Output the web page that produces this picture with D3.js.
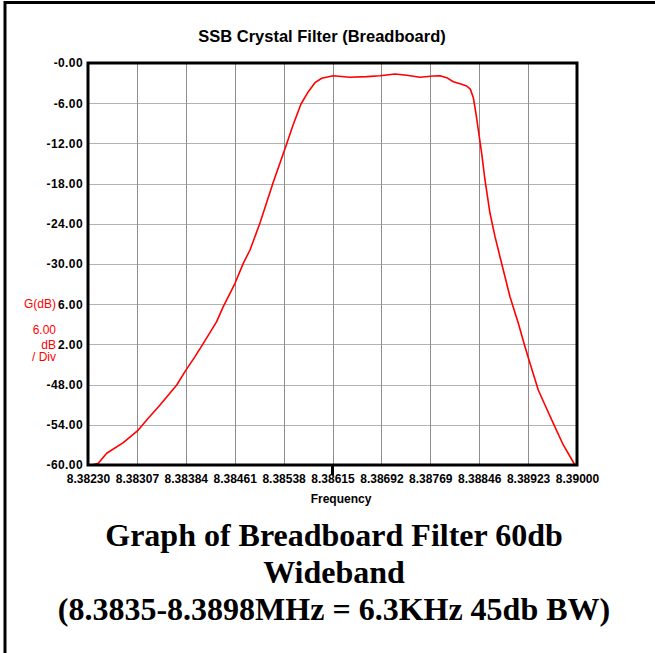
<!DOCTYPE html>
<html>
<head>
<meta charset="utf-8">
<script src="https://cdn.jsdelivr.net/npm/d3@7"></script>
<style>
  body { margin: 0; background: #fff; }
  svg { display: block; }
</style>
</head>
<body>
<svg id="chart"></svg>
<script>
// measured response, frequency in MHz / gain in dB
var freqMHz = [8.382358, 8.382462, 8.382594, 8.382856, 8.383092, 8.383224, 8.383434, 8.383697,
  8.383827, 8.383985, 8.384116, 8.384326, 8.384430, 8.384615, 8.384745, 8.384851, 8.385008,
  8.385213, 8.385433, 8.385528, 8.385654, 8.385769, 8.385874, 8.385980, 8.386162, 8.386425,
  8.386688, 8.386898, 8.387134, 8.387318, 8.387528, 8.387737, 8.387843, 8.387948, 8.388052,
  8.388184, 8.388263, 8.388320, 8.388368, 8.388410, 8.388446, 8.388499, 8.388551, 8.388630, 8.388709,
  8.388787, 8.388945, 8.389076, 8.389181, 8.389260, 8.389390, 8.389496, 8.389627, 8.389784,
  8.389968]
var gainDb = [-60.0, -59.75, -58.25, -56.67, -54.78, -53.28, -51.04, -48.06,
  -46.07, -43.83, -41.84, -38.61, -36.37, -32.88, -29.90, -27.91, -23.88,
  -17.91, -11.94, -9.30, -6.12, -4.28, -2.94, -2.28, -1.90, -2.13,
  -2.04, -1.90, -1.64, -1.84, -2.13, -1.94, -1.90, -2.19, -2.79,
  -3.18, -3.43, -3.90, -5.20, -7.60, -10.00, -13.48, -17.46, -22.43, -25.92,
  -28.91, -34.88, -38.85, -42.34, -44.82, -48.80, -51.04, -53.78, -57.01,
  -60.00]

var xTicks = [8.38230, 8.38307, 8.38384, 8.38461, 8.38538, 8.38615, 8.38692, 8.38769, 8.38846, 8.38923, 8.39000]
var yTicks = [0, -6, -12, -18, -24, -30, -36, -42, -48, -54, -60]
// -36 and -42 show only their tail, the red caption covers the rest
var yTickLabels = ["-0.00", "-6.00", "-12.00", "-18.00", "-24.00", "-30.00", "6.00", "2.00", "-48.00", "-54.00", "-60.00"]
var captionLines = ["Graph of Breadboard Filter 60db", "Wideband", "(8.3835-8.3898MHz = 6.3KHz 45db BW)"]

var width = 655
var height = 653
var plot = {left: 88, top: 63, right: 577, bottom: 465}

const svg = d3.select('#chart')
    .attr("width", width)
    .attr("height", height)

svg.append("rect").attr("width", width).attr("height", height).attr("fill", "#fff")

// page frame (top and left edge only)
svg.append("path")
    .attr("d", "M5," + height + "V2.5H" + width)
    .attr("fill", "none")
    .attr("stroke", "#000")
    .attr("stroke-width", 3)

const x = d3.scaleLinear().domain([8.3823, 8.39]).range([plot.left, plot.right])
const y = d3.scaleLinear().domain([-60, 0]).range([plot.bottom, plot.top])

const pw = plot.right - plot.left
const ph = plot.bottom - plot.top

// grid
svg.append("g")
    .attr("transform", "translate(" + plot.left + ",0)")
    .call(d3.axisLeft(y).tickValues(yTicks).tickSize(-pw).tickFormat(""))
    .call(g => g.select(".domain").remove())
    .call(g => g.selectAll("line").attr("stroke", "#b2b2b2").attr("shape-rendering", "crispEdges"))

svg.append("g")
    .attr("transform", "translate(0," + plot.bottom + ")")
    .call(d3.axisBottom(x).tickValues(xTicks).tickSize(-ph).tickFormat(""))
    .call(g => g.select(".domain").remove())
    .call(g => g.selectAll("line").attr("stroke", "#8e8e8e").attr("shape-rendering", "crispEdges"))

// tick labels
const font = "'Liberation Sans', Arial, sans-serif"

svg.append("g")
    .attr("transform", "translate(" + (plot.left - 5) + ",0)")
    .call(d3.axisLeft(y).tickValues(yTicks).tickSize(0).tickPadding(0)
        .tickFormat((d, i) => yTickLabels[i]))
    .call(g => g.select(".domain").remove())
    .call(g => g.selectAll("text")
        .attr("font-family", font).attr("font-size", 12).attr("font-weight", "bold")
        .attr("letter-spacing", 0.4).attr("fill", "#000"))

svg.append("g")
    .attr("transform", "translate(0," + (plot.bottom + 7) + ")")
    .call(d3.axisBottom(x).tickValues(xTicks).tickSize(0).tickPadding(2)
        .tickFormat(d => d.toFixed(5)))
    .call(g => g.select(".domain").remove())
    .call(g => g.selectAll("text")
        .attr("font-family", font).attr("font-size", 12).attr("font-weight", "bold")
        .attr("fill", "#000"))

// centre marker below the axis
svg.append("line")
    .attr("x1", x(8.38615)).attr("x2", x(8.38615))
    .attr("y1", plot.bottom).attr("y2", plot.bottom + 10)
    .attr("stroke", "#000").attr("stroke-width", 3)

// response curve
const pts = freqMHz.map((f, i) => [f, gainDb[i]])
const line = d3.line().x(d => x(d[0])).y(d => y(d[1]))

svg.append("path")
    .datum(pts)
    .attr("d", line)
    .attr("fill", "none")
    .attr("stroke", "#ff0000")
    .attr("stroke-width", 1.6)
    .attr("stroke-linejoin", "round")

// plot frame
svg.append("rect")
    .attr("x", plot.left).attr("y", plot.top)
    .attr("width", pw).attr("height", ph)
    .attr("fill", "none")
    .attr("stroke", "#000")
    .attr("stroke-width", 3)

// red axis caption
var redLabels = [{t: "G(dB)", y: y(-36)}, {t: "6.00", y: 330}, {t: "dB", y: y(-42)}, {t: "/ Div", y: 357}]
svg.append("g")
    .selectAll("text")
    .data(redLabels)
    .enter()
    .append("text")
    .attr("x", 56).attr("y", d => d.y)
    .attr("dy", "0.35em")
    .attr("text-anchor", "end")
    .attr("font-family", font).attr("font-size", 12)
    .attr("fill", "#ff0000")
    .text(d => d.t)

// titles
svg.append("text")
    .attr("x", 322).attr("y", 42)
    .attr("text-anchor", "middle")
    .attr("font-family", font).attr("font-size", 16.5).attr("font-weight", "bold")
    .text("SSB Crystal Filter (Breadboard)")

svg.append("text")
    .attr("x", 341).attr("y", 503)
    .attr("text-anchor", "middle")
    .attr("font-family", font).attr("font-size", 12).attr("font-weight", "bold")
    .text("Frequency")

svg.append("g")
    .selectAll("text")
    .data(captionLines)
    .enter()
    .append("text")
    .attr("x", 334)
    .attr("y", (d, i) => 546 + i * 37)
    .attr("text-anchor", "middle")
    .attr("font-family", "'Liberation Serif', 'Times New Roman', serif")
    .attr("font-size", 32)
    .attr("font-weight", "bold")
    .text(d => d)
</script>
</body>
</html>
